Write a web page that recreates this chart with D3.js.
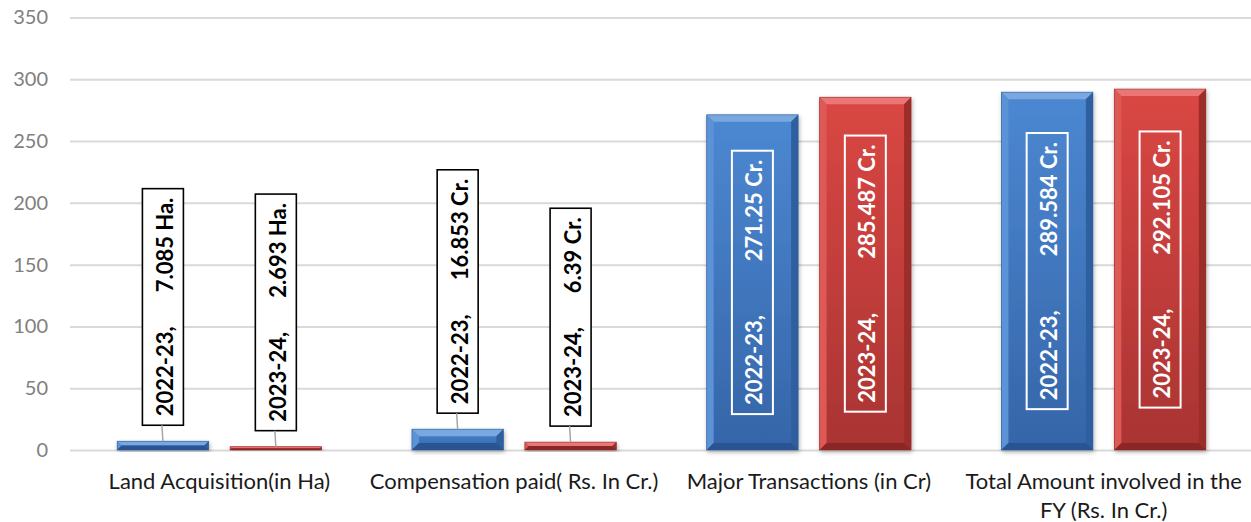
<!DOCTYPE html>
<html>
  <head>
    <meta http-equiv="Content-Type" content="text/html;charset=utf-8"/>
    <title>Land and transactions</title>
    <script src="https://d3js.org/d3.v7.min.js"></script>
    <style>
      body { margin: 0; background: #fff; }
      svg text { font-family: Lato, "Open Sans", sans-serif; }
    </style>
  </head>
  <body>
    <div id="chart"></div>
    <script type="text/javascript">

      // data
      const categories = ['Land Acquisition(in Ha)', 'Compensation paid( Rs. In Cr.)', 'Major Transactions (in Cr)', 'Total Amount involved in the FY (Rs. In Cr.)']
      const series = ['2022-23', '2023-24']
      const values2022 = [7.085, 16.853, 271.25, 289.584]
      const values2023 = [2.693, 6.39, 285.487, 292.105]
      const valueLabels2022 = ['7.085 Ha.', '16.853 Cr.', '271.25 Cr.', '289.584 Cr.']
      const valueLabels2023 = ['2.693 Ha.', '6.39 Cr.', '285.487 Cr.', '292.105 Cr.']
      const yTicks = [0, 50, 100, 150, 200, 250, 300, 350]

      const width = 1251,
            height = 522

      const svg = d3.select('#chart').append('svg').attr('width', width).attr('height', height)
      const defs = svg.append('defs')

      const colors = {
        '2022-23': { top: '#4c88d2', bottom: '#3565a8', bevTop: '#79a8e0', bevLeft: '#5b93d6', bevRight: '#2f5e9e', bevBottom: '#2a5291', line: '#2e5a96' },
        '2023-24': { top: '#da4744', bottom: '#a93432', bevTop: '#ea7775', bevLeft: '#de5856', bevRight: '#9c2e2c', bevBottom: '#8a2826', line: '#8f2b29' }
      }

      series.forEach((s, i) => {
        const g = defs.append('linearGradient').attr('id', 'face' + i).attr('x1', 0).attr('y1', 0).attr('x2', 0).attr('y2', 1)
        g.append('stop').attr('offset', '0%').attr('stop-color', colors[s].top)
        g.append('stop').attr('offset', '100%').attr('stop-color', colors[s].bottom)
      })

      const shadow = defs.append('filter').attr('id', 'shadow').attr('x', '-20%').attr('y', '-20%').attr('width', '140%').attr('height', '140%')
      shadow.append('feDropShadow').attr('dx', 1).attr('dy', 2).attr('stdDeviation', 2).attr('flood-color', '#000').attr('flood-opacity', 0.3)

      const x0 = d3.scaleBand().domain(categories).range([72, 1251])
      const x1 = d3.scaleBand().domain(series).range([0, x0.bandwidth()]).paddingInner(0.19).paddingOuter(0.4)
      const y = d3.scaleLinear().domain([0, 350]).range([450, 17.5])

      // grid + y axis
      const yAxis = d3.axisLeft(y).tickValues(yTicks).tickSize(-(width - 70)).tickPadding(22)
      const ga = svg.append('g').attr('transform', 'translate(70,0)').call(yAxis)
      ga.select('.domain').remove()
      ga.selectAll('.tick line').attr('stroke', '#d9d9d9').attr('stroke-width', 2)
      ga.selectAll('.tick text').attr('fill', '#808080').style('font-size', '20px')

      // category labels, wrapped like the original
      const xAxis = d3.axisBottom(x0).tickSize(0).tickPadding(0)
      const gx = svg.append('g').attr('transform', 'translate(0,450)').call(xAxis)
      gx.select('.domain').remove()
      gx.selectAll('.tick text').attr('fill', '#1a1a1a').style('font-size', '22px').attr('y', 39).attr('dy', 0)
        .each(function(d) {
          const t = d3.select(this)
          const words = d.split(' ')
          t.text(null)
          let line = []
          let ts = t.append('tspan').attr('x', 0).attr('dy', 0)
          words.forEach(w => {
            line.push(w)
            ts.text(line.join(' '))
            if (ts.node().getComputedTextLength() > 298 && line.length > 1) {
              line.pop()
              ts.text(line.join(' '))
              line = [w]
              ts = t.append('tspan').attr('x', 0).attr('dy', 29).text(w)
            }
          })
        })

      const dataset = []
      categories.forEach((c, i) => {
        dataset.push({ cat: c, s: series[0], si: 0, v: values2022[i], label: valueLabels2022[i] })
        dataset.push({ cat: c, s: series[1], si: 1, v: values2023[i], label: valueLabels2023[i] })
      })

      // bevelled bars
      const bars = svg.append('g').selectAll('g.bar').data(dataset).enter().append('g').attr('class', 'bar')
        .attr('filter', 'url(#shadow)')
      bars.each(function(d) {
        const g = d3.select(this)
        const bx = x0(d.cat) + x1(d.s), bw = x1.bandwidth()
        const by = y(d.v), bh = y(0) - y(d.v)
        const b = Math.min(7, bh / 2, bw / 2)
        const c = colors[d.s]
        g.append('rect').attr('x', bx).attr('y', by).attr('width', bw).attr('height', bh).attr('fill', 'url(#face' + d.si + ')')
        const poly = (pts, fill) => g.append('polygon').attr('points', pts.map(p => p.join(',')).join(' ')).attr('fill', fill)
        poly([[bx, by], [bx + bw, by], [bx + bw - b, by + b], [bx + b, by + b]], c.bevTop)
        poly([[bx, by], [bx + b, by + b], [bx + b, by + bh - b], [bx, by + bh]], c.bevLeft)
        poly([[bx + bw, by], [bx + bw - b, by + b], [bx + bw - b, by + bh - b], [bx + bw, by + bh]], c.bevRight)
        poly([[bx, by + bh], [bx + b, by + bh - b], [bx + bw - b, by + bh - b], [bx + bw, by + bh]], c.bevBottom)
        g.append('rect').attr('x', bx).attr('y', by).attr('width', bw).attr('height', bh)
          .attr('fill', 'none').attr('stroke', c.line).attr('stroke-width', 0.8).attr('stroke-opacity', 0.7)
      })

      // data labels
      const pad = 9
      const labels = svg.append('g').selectAll('g.lbl').data(dataset).enter().append('g').attr('class', 'lbl')
      labels.each(function(d) {
        const g = d3.select(this)
        const cx = x0(d.cat) + x1(d.s) + x1.bandwidth() / 2
        const inside = d.v > 100
        const ink = inside ? '#fff' : '#000'
        const gap = inside ? 54 : 34
        const box = g.append('rect')
        const line = g.append('line')
        const txt = g.append('text').attr('fill', ink).style('font-size', '22px').style('font-weight', 'bold')
          .attr('dominant-baseline', 'central')
        txt.append('tspan').text(d.s + ',')
        txt.append('tspan').attr('dx', gap).text(d.label)
        const len = txt.node().getComputedTextLength() + gap + 2 * pad
        const bw = 41
        let bottom
        if (inside) {
          const mid = (y(d.v) + y(0)) / 2
          bottom = mid + len / 2
          box.attr('fill', 'none').attr('stroke', '#fff').attr('stroke-width', 2)
        } else {
          bottom = y(d.v) - 16
          box.attr('fill', '#fff').attr('stroke', '#000').attr('stroke-width', 1.6)
          line.attr('x1', cx - 1).attr('y1', bottom).attr('x2', cx).attr('y2', y(d.v))
            .attr('stroke', '#a6a6a6').attr('stroke-width', 1.5)
        }
        box.attr('x', cx - bw / 2).attr('y', bottom - len).attr('width', bw).attr('height', len)
        txt.attr('transform', 'translate(' + (cx + 1) + ',' + (bottom - pad) + ') rotate(-90)')
      })

    </script>
  </body>
</html>
